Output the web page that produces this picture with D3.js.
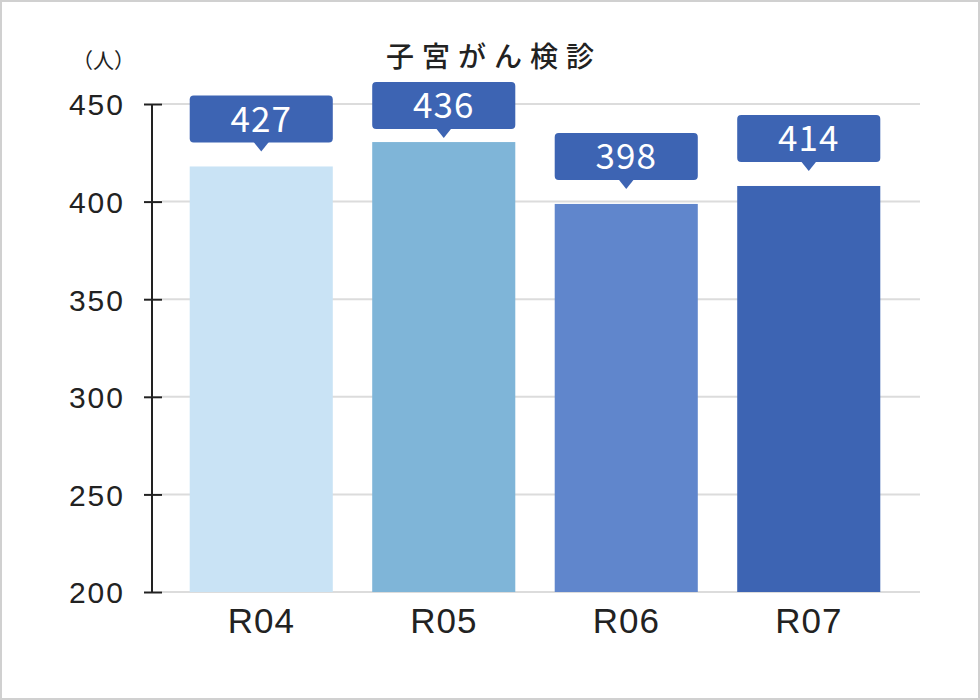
<!DOCTYPE html>
<html>
<head>
<meta charset="utf-8">
<script src="https://cdn.jsdelivr.net/npm/d3@7"></script>
<style>
  html, body { margin: 0; padding: 0; background: #fff; }
  svg { display: block; }
</style>
</head>
<body>
<svg></svg>
<script>
// data
const categories = ["R04", "R05", "R06", "R07"];
const labelValues = [427, 436, 398, 414];      // numbers printed in the callouts
const barValues = [418, 430.5, 398.8, 408];     // bar heights as drawn
const barColors = ["#c9e3f5", "#7fb5d8", "#6086cc", "#3d64b3"];
const yTicks = [200, 250, 300, 350, 400, 450];
const title = "子宮がん検診";
const unitLabel = "（人）";

const svgWidth = 980;
const svgHeight = 700;
const svg = d3.select("svg")
    .attr("width", svgWidth)
    .attr("height", svgHeight);

// frame
svg.append("rect")
    .attr("x", 1).attr("y", 1)
    .attr("width", svgWidth - 2).attr("height", svgHeight - 2)
    .attr("fill", "#fff")
    .attr("stroke", "#d0d0d0")
    .attr("stroke-width", 2);

const x = d3.scaleBand()
    .domain(categories)
    .range([170, 900])
    .paddingInner(0.216)
    .paddingOuter(0.108);

const y = d3.scaleLinear()
    .domain([200, 450])
    .range([592, 104]);

const axisX = 152;
const gridLeft = 162;
const gridRight = 920;

// gridlines
svg.append("g")
    .selectAll("line")
    .data(yTicks)
    .enter().append("line")
    .attr("x1", gridLeft)
    .attr("x2", gridRight)
    .attr("y1", d => y(d))
    .attr("y2", d => y(d))
    .attr("stroke", "#dcdcdc")
    .attr("stroke-width", 2);

// y axis
const yAxis = svg.append("g")
    .attr("transform", "translate(" + axisX + ",0)")
    .call(d3.axisLeft(y).tickValues(yTicks).tickSize(0).tickPadding(27));

yAxis.select(".domain").remove();
yAxis.append("line")
    .attr("x1", 0).attr("x2", 0)
    .attr("y1", y(450)).attr("y2", y(200))
    .attr("stroke", "#222").attr("stroke-width", 2);
yAxis.selectAll(".tick").append("line")
    .attr("x1", -8).attr("x2", 10)
    .attr("stroke", "#222").attr("stroke-width", 2);
yAxis.selectAll(".tick text")
    .attr("fill", "#222")
    .attr("font-family", "'Liberation Sans', Arial, sans-serif")
    .attr("font-size", 30)
    .attr("letter-spacing", 2)
    .attr("dy", "0.36em");

// bars
svg.append("g")
    .selectAll("rect")
    .data(categories)
    .enter().append("rect")
    .attr("x", d => x(d))
    .attr("y", (d, i) => y(barValues[i]))
    .attr("width", x.bandwidth())
    .attr("height", (d, i) => y(200) - y(barValues[i]))
    .attr("fill", (d, i) => barColors[i]);

// x axis labels
const xAxis = svg.append("g")
    .attr("transform", "translate(0," + y(200) + ")")
    .call(d3.axisBottom(x).tickSize(0).tickPadding(16));
xAxis.select(".domain").remove();
xAxis.selectAll(".tick text")
    .attr("fill", "#222")
    .attr("font-family", "'Liberation Sans', Arial, sans-serif")
    .attr("font-size", 35)
    .attr("letter-spacing", 1)
    .attr("dy", "0.71em");

// callouts
const boxH = 47;
const tipH = 9;
const tipW = 8;
const gap = 15;
const minTop = 82;
const callout = svg.append("g")
    .selectAll("g")
    .data(categories)
    .enter().append("g")
    .attr("transform", (d, i) => {
        const top = Math.max(minTop, y(barValues[i]) - gap - tipH - boxH);
        return "translate(" + x(d) + "," + top + ")";
    });

callout.append("rect")
    .attr("width", x.bandwidth())
    .attr("height", boxH)
    .attr("rx", 4)
    .attr("fill", "#3d64b3");

callout.append("path")
    .attr("d", () => {
        const c = x.bandwidth() / 2;
        return "M" + (c - tipW) + "," + (boxH - 1) + "L" + c + "," + (boxH + tipH) + "L" + (c + tipW) + "," + (boxH - 1) + "Z";
    })
    .attr("fill", "#3d64b3");

callout.append("text")
    .attr("x", x.bandwidth() / 2)
    .attr("y", boxH / 2)
    .attr("dy", "0.36em")
    .attr("text-anchor", "middle")
    .attr("fill", "#fff")
    .attr("font-family", "'Noto Sans CJK JP', 'Noto Sans', sans-serif")
    .attr("font-size", 35)
    .attr("letter-spacing", 1)
    .text((d, i) => labelValues[i]);

// title
svg.append("text")
    .attr("x", 494)
    .attr("y", 67)
    .attr("text-anchor", "middle")
    .attr("fill", "#222")
    .attr("font-family", "'Noto Sans CJK JP', sans-serif")
    .attr("font-size", 28)
    .attr("font-weight", 500)
    .attr("letter-spacing", 8)
    .text(title);

// unit label
svg.append("text")
    .attr("x", 72)
    .attr("y", 68)
    .attr("fill", "#222")
    .attr("font-family", "'Noto Sans CJK JP', sans-serif")
    .attr("font-size", 21)
    .text(unitLabel);
</script>
</body>
</html>
